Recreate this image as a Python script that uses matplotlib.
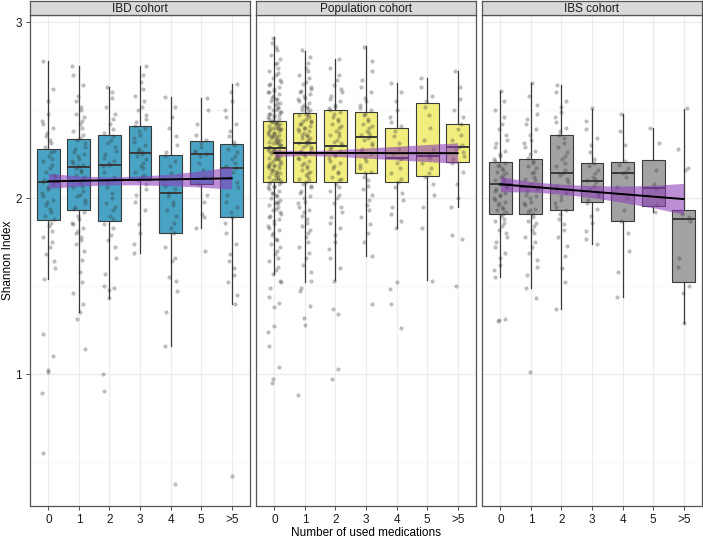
import matplotlib
matplotlib.use("Agg")
import matplotlib.pyplot as plt
import numpy as np

plt.rcParams['font.family'] = ['Liberation Sans', 'DejaVu Sans']

# categories and cohort names
categories = ["0", "1", "2", "3", "4", "5", ">5"]
cohort_names = ["IBD cohort", "Population cohort", "IBS cohort"]

# ---- IBD cohort ----
ibd_q1 = [1.875, 1.93, 1.87, 2.10, 1.80, 2.078, 1.89]
ibd_med = [2.09, 2.174, 2.19, 2.254, 2.03, 2.25, 2.17]
ibd_q3 = [2.28, 2.335, 2.356, 2.41, 2.244, 2.326, 2.307]
ibd_lo = [1.54, 1.35, 1.43, 1.69, 1.16, 1.83, 1.40]
ibd_hi = [2.78, 2.75, 2.63, 2.75, 2.575, 2.566, 2.65]
ibd_fit = [2.095, 2.098, 2.101, 2.104, 2.106, 2.109, 2.112]
ibd_ci_lo = [2.055, 2.068, 2.075, 2.075, 2.07, 2.062, 2.05]
ibd_ci_hi = [2.140, 2.125, 2.12, 2.125, 2.135, 2.155, 2.178]
ibd_points = [
    [2.78, 2.62, 2.55, 2.48, 2.44, 2.42, 2.40, 2.37, 2.35, 2.33, 2.31, 2.29, 2.27, 2.26, 2.24,
     2.22, 2.21, 2.19, 2.17, 2.15, 2.13, 2.12, 2.10, 2.09, 2.08, 2.06, 2.05, 2.03, 2.01, 1.99,
     1.98, 1.96, 1.94, 1.92, 1.90, 1.88, 1.86, 1.84, 1.81, 1.78, 1.75, 1.72, 1.68, 1.64, 1.60,
     1.54, 1.23, 1.10, 1.02, 1.01, 0.89, 0.55],
    [2.75, 2.70, 2.64, 2.58, 2.55, 2.52, 2.50, 2.48, 2.46, 2.44, 2.42, 2.40, 2.38, 2.36, 2.34,
     2.33, 2.31, 2.29, 2.28, 2.26, 2.25, 2.24, 2.22, 2.21, 2.20, 2.19, 2.18, 2.17, 2.16, 2.15,
     2.13, 2.12, 2.10, 2.09, 2.07, 2.06, 2.04, 2.02, 2.01, 1.99, 1.97, 1.95, 1.94, 1.92, 1.90,
     1.88, 1.86, 1.85, 1.83, 1.81, 1.80, 1.78, 1.76, 1.74, 1.70, 1.65, 1.58, 1.52, 1.46, 1.40,
     1.35, 1.31, 1.14],
    [2.63, 2.60, 2.57, 2.52, 2.48, 2.45, 2.42, 2.39, 2.37, 2.35, 2.33, 2.31, 2.29, 2.27, 2.25,
     2.23, 2.21, 2.20, 2.19, 2.18, 2.15, 2.12, 2.09, 2.06, 2.03, 2.00, 1.97, 1.95, 1.93, 1.90,
     1.88, 1.85, 1.83, 1.79, 1.76, 1.72, 1.66, 1.57, 1.50, 1.49, 1.48, 1.43, 1.00, 0.905],
    [2.75, 2.70, 2.66, 2.62, 2.58, 2.55, 2.52, 2.50, 2.47, 2.45, 2.43, 2.41, 2.40, 2.38, 2.36,
     2.34, 2.32, 2.30, 2.28, 2.27, 2.26, 2.25, 2.24, 2.22, 2.20, 2.18, 2.17, 2.15, 2.13, 2.12,
     2.10, 2.08, 2.05, 2.02, 1.98, 1.93, 1.85, 1.80, 1.74, 1.69],
    [2.575, 2.52, 2.46, 2.40, 2.35, 2.30, 2.26, 2.24, 2.21, 2.18, 2.14, 2.10, 2.07, 2.05, 2.03,
     2.01, 1.98, 1.96, 1.93, 1.90, 1.86, 1.83, 1.80, 1.72, 1.66, 1.64, 1.55, 1.53, 1.47, 1.35,
     1.16, 0.377],
    [2.566, 2.50, 2.42, 2.36, 2.33, 2.31, 2.29, 2.27, 2.26, 2.25, 2.24, 2.20, 2.16, 2.12, 2.08,
     2.02, 1.98, 1.91, 1.89, 1.83, 1.70],
    [2.65, 2.60, 2.55, 2.50, 2.46, 2.42, 2.38, 2.35, 2.32, 2.30, 2.28, 2.26, 2.24, 2.22, 2.20,
     2.18, 2.17, 2.15, 2.12, 2.09, 2.06, 2.02, 1.98, 1.95, 1.92, 1.89, 1.86, 1.80, 1.74, 1.68,
     1.64, 1.60, 1.56, 1.52, 1.45, 1.40, 0.42],
]

# ---- Population cohort ----
pop_q1 = [2.09, 2.09, 2.09, 2.14, 2.09, 2.125, 2.203]
pop_med = [2.286, 2.31, 2.294, 2.348, 2.229, 2.24, 2.29]
pop_q3 = [2.44, 2.485, 2.50, 2.49, 2.40, 2.54, 2.42]
pop_lo = [1.566, 1.525, 1.534, 1.67, 1.83, 1.534, 1.95]
pop_hi = [2.913, 2.837, 2.79, 2.864, 2.655, 2.68, 2.723]
pop_fit = [2.256, 2.256, 2.256, 2.256, 2.255, 2.255, 2.255]
pop_ci_lo = [2.236, 2.242, 2.237, 2.227, 2.217, 2.207, 2.197]
pop_ci_hi = [2.274, 2.269, 2.274, 2.284, 2.294, 2.304, 2.314]
pop_points = [
    [2.91, 2.88, 2.86, 2.84, 2.81, 2.79, 2.77, 2.76, 2.74, 2.72, 2.71, 2.70, 2.68, 2.67, 2.66,
     2.65, 2.64, 2.63, 2.62, 2.61, 2.60, 2.60, 2.59, 2.58, 2.57, 2.56, 2.56, 2.55, 2.54, 2.54,
     2.53, 2.52, 2.52, 2.51, 2.50, 2.50, 2.49, 2.49, 2.48, 2.48, 2.47, 2.47, 2.46, 2.46, 2.45,
     2.45, 2.44, 2.44, 2.43, 2.43, 2.43, 2.42, 2.42, 2.42, 2.41, 2.41, 2.40, 2.40, 2.40, 2.39,
     2.39, 2.39, 2.38, 2.38, 2.37, 2.37, 2.37, 2.36, 2.36, 2.35, 2.35, 2.35, 2.34, 2.34, 2.33,
     2.33, 2.33, 2.32, 2.32, 2.31, 2.31, 2.31, 2.30, 2.30, 2.29, 2.29, 2.29, 2.28, 2.28, 2.28,
     2.27, 2.27, 2.26, 2.26, 2.26, 2.25, 2.25, 2.24, 2.24, 2.23, 2.23, 2.23, 2.22, 2.22, 2.21,
     2.21, 2.20, 2.20, 2.19, 2.19, 2.19, 2.18, 2.18, 2.17, 2.17, 2.16, 2.16, 2.15, 2.15, 2.14,
     2.14, 2.13, 2.13, 2.12, 2.12, 2.11, 2.11, 2.10, 2.10, 2.09, 2.09, 2.08, 2.08, 2.07, 2.06,
     2.06, 2.05, 2.04, 2.03, 2.03, 2.02, 2.01, 2.00, 1.99, 1.98, 1.97, 1.97, 1.96, 1.95, 1.94,
     1.93, 1.92, 1.91, 1.90, 1.89, 1.88, 1.87, 1.85, 1.84, 1.83, 1.82, 1.80, 1.79, 1.77, 1.76,
     1.74, 1.72, 1.70, 1.68, 1.66, 1.64, 1.61, 1.59, 1.57, 1.53, 1.52, 1.49, 1.44, 1.405, 1.38,
     1.27, 1.24, 1.16, 1.04, 0.97, 0.95],
    [2.84, 2.80, 2.77, 2.74, 2.72, 2.70, 2.68, 2.66, 2.65, 2.63, 2.62, 2.61, 2.60, 2.59, 2.58,
     2.57, 2.56, 2.55, 2.54, 2.53, 2.52, 2.52, 2.51, 2.50, 2.50, 2.49, 2.48, 2.47, 2.47, 2.46,
     2.45, 2.44, 2.44, 2.43, 2.42, 2.42, 2.41, 2.40, 2.40, 2.39, 2.38, 2.38, 2.37, 2.36, 2.36,
     2.35, 2.34, 2.34, 2.33, 2.32, 2.32, 2.31, 2.31, 2.30, 2.29, 2.29, 2.28, 2.27, 2.26, 2.26,
     2.25, 2.24, 2.23, 2.22, 2.21, 2.20, 2.19, 2.18, 2.17, 2.16, 2.15, 2.14, 2.13, 2.12, 2.11,
     2.10, 2.09, 2.08, 2.07, 2.06, 2.04, 2.03, 2.01, 2.00, 1.98, 1.97, 1.95, 1.93, 1.92, 1.90,
     1.88, 1.86, 1.84, 1.82, 1.80, 1.78, 1.75, 1.72, 1.69, 1.66, 1.62, 1.58, 1.53, 1.49, 1.47,
     1.385, 1.32, 1.28, 0.88],
    [2.79, 2.74, 2.70, 2.67, 2.64, 2.62, 2.60, 2.58, 2.56, 2.55, 2.53, 2.52, 2.51, 2.50, 2.49,
     2.48, 2.46, 2.45, 2.44, 2.42, 2.41, 2.40, 2.38, 2.37, 2.36, 2.35, 2.33, 2.32, 2.31, 2.30,
     2.29, 2.28, 2.27, 2.25, 2.24, 2.23, 2.21, 2.20, 2.18, 2.17, 2.15, 2.14, 2.12, 2.11, 2.10,
     2.08, 2.06, 2.04, 2.02, 2.00, 1.97, 1.95, 1.92, 1.89, 1.86, 1.83, 1.79, 1.75, 1.71, 1.66,
     1.60, 1.53, 1.37, 1.34, 1.03, 0.97],
    [2.86, 2.78, 2.72, 2.67, 2.63, 2.60, 2.57, 2.55, 2.53, 2.51, 2.50, 2.48, 2.47, 2.45, 2.44,
     2.42, 2.41, 2.40, 2.38, 2.37, 2.36, 2.35, 2.34, 2.33, 2.31, 2.30, 2.28, 2.27, 2.25, 2.23,
     2.21, 2.19, 2.17, 2.15, 2.14, 2.12, 2.10, 2.07, 2.05, 2.02, 1.99, 1.96, 1.93, 1.89, 1.85,
     1.80, 1.75, 1.67, 1.40],
    [2.655, 2.60, 2.55, 2.50, 2.46, 2.43, 2.41, 2.38, 2.35, 2.31, 2.28, 2.25, 2.23, 2.22, 2.20,
     2.17, 2.14, 2.11, 2.09, 2.06, 2.03, 1.99, 1.95, 1.91, 1.87, 1.83, 1.52, 1.485, 1.40, 1.26],
    [2.68, 2.63, 2.58, 2.55, 2.52, 2.47, 2.40, 2.33, 2.28, 2.25, 2.24, 2.23, 2.20, 2.17, 2.14,
     2.12, 2.08, 2.02, 1.95, 1.83, 1.53],
    [2.72, 2.63, 2.56, 2.50, 2.46, 2.42, 2.39, 2.36, 2.33, 2.30, 2.29, 2.28, 2.26, 2.24, 2.22,
     2.20, 2.15, 2.08, 2.00, 1.95, 1.79, 1.77, 1.50],
]

# ---- IBS cohort ----
ibs_q1 = [1.91, 1.907, 1.93, 1.98, 1.87, 1.955, 1.52]
ibs_med = [2.078, 2.065, 2.14, 2.097, 2.14, 2.055, 1.88]
ibs_q3 = [2.203, 2.223, 2.356, 2.197, 2.206, 2.216, 1.93]
ibs_lo = [1.553, 1.49, 1.37, 1.737, 1.44, 1.92, 1.29]
ibs_hi = [2.61, 2.655, 2.64, 2.507, 2.477, 2.40, 2.507]
ibs_fit = [2.078, 2.064, 2.050, 2.036, 2.022, 2.008, 1.994]
ibs_ci_lo = [2.035, 2.035, 2.022, 2.002, 1.976, 1.944, 1.908]
ibs_ci_hi = [2.121, 2.093, 2.078, 2.070, 2.068, 2.072, 2.083]
ibs_points = [
    [2.61, 2.55, 2.50, 2.46, 2.42, 2.39, 2.36, 2.33, 2.31, 2.29, 2.27, 2.25, 2.24, 2.22, 2.21,
     2.20, 2.19, 2.18, 2.17, 2.16, 2.15, 2.14, 2.13, 2.12, 2.11, 2.10, 2.09, 2.08, 2.08, 2.07,
     2.06, 2.05, 2.04, 2.03, 2.02, 2.01, 2.00, 1.99, 1.98, 1.97, 1.96, 1.95, 1.94, 1.93, 1.92,
     1.91, 1.90, 1.88, 1.87, 1.86, 1.84, 1.82, 1.80, 1.78, 1.75, 1.72, 1.69, 1.66, 1.62, 1.59,
     1.55, 1.31, 1.305, 1.30],
    [2.655, 2.58, 2.53, 2.48, 2.45, 2.42, 2.39, 2.36, 2.33, 2.31, 2.29, 2.27, 2.25, 2.23, 2.21,
     2.20, 2.18, 2.17, 2.15, 2.14, 2.12, 2.11, 2.10, 2.08, 2.07, 2.06, 2.05, 2.04, 2.02, 2.01,
     2.00, 1.98, 1.97, 1.96, 1.94, 1.93, 1.92, 1.91, 1.89, 1.87, 1.86, 1.84, 1.82, 1.80, 1.78,
     1.75, 1.72, 1.69, 1.65, 1.61, 1.56, 1.49, 1.43, 1.01],
    [2.64, 2.60, 2.55, 2.52, 2.49, 2.46, 2.43, 2.40, 2.38, 2.36, 2.34, 2.31, 2.29, 2.26, 2.24,
     2.22, 2.20, 2.18, 2.16, 2.14, 2.13, 2.11, 2.09, 2.07, 2.05, 2.03, 2.01, 1.99, 1.97, 1.95,
     1.93, 1.91, 1.88, 1.85, 1.82, 1.78, 1.73, 1.67, 1.60, 1.52, 1.37],
    [2.51, 2.44, 2.39, 2.34, 2.30, 2.26, 2.22, 2.20, 2.18, 2.16, 2.14, 2.12, 2.11, 2.10, 2.09,
     2.07, 2.05, 2.03, 2.01, 1.99, 1.97, 1.94, 1.90, 1.86, 1.81, 1.77, 1.74],
    [2.48, 2.38, 2.30, 2.21, 2.19, 2.17, 2.15, 2.14, 2.12, 2.06, 2.00, 1.93, 1.87, 1.80, 1.70,
     1.58, 1.44],
    [2.40, 2.31, 2.16, 2.08, 2.05, 2.02, 1.96, 1.92],
    [2.51, 2.28, 2.17, 2.16, 1.91, 1.89, 1.87, 1.66, 1.61, 1.50, 1.46, 1.29],
]

box_colors = ["#48A3C4", "#F1EE7E", "#A2A2A2"]

cohorts = [
    (ibd_q1, ibd_med, ibd_q3, ibd_lo, ibd_hi, ibd_fit, ibd_ci_lo, ibd_ci_hi, ibd_points),
    (pop_q1, pop_med, pop_q3, pop_lo, pop_hi, pop_fit, pop_ci_lo, pop_ci_hi, pop_points),
    (ibs_q1, ibs_med, ibs_q3, ibs_lo, ibs_hi, ibs_fit, ibs_ci_lo, ibs_ci_hi, ibs_points),
]

# horizontal jitter pattern for the points
jitter = [-0.17, 0.08, 0.19, -0.04, 0.13, -0.21, 0.02, 0.16, -0.11, 0.21, -0.08, 0.05,
          -0.19, 0.11, -0.02, 0.18, -0.14, 0.07, -0.06, 0.15, -0.18, 0.00, 0.10]

W, H = 703, 539
fig = plt.figure(figsize=(W / 100, H / 100), dpi=100)


def px_rect(left, top, width, height):
    return [left / W, 1 - (top + height) / H, width / W, height / H]


panel_left = [30, 256, 482]
xpos = np.arange(len(categories))

for i, (q1, med, q3, lo, hi, fit, ci_lo, ci_hi, points) in enumerate(cohorts):
    ax = fig.add_axes(px_rect(panel_left[i], 15, 220, 491))
    ax.set_xlim(-0.6, 6.6)
    ax.set_ylim(0.25, 3.04)

    # grid
    for y in [0.5, 1.5, 2.5]:
        ax.axhline(y, color="#F4F4F4", lw=0.5, zorder=0)
    for y in [1, 2, 3]:
        ax.axhline(y, color="#EBEBEB", lw=0.9, zorder=0)
    for x in xpos:
        ax.axvline(x, color="#EBEBEB", lw=0.9, zorder=0)

    stats = [dict(q1=q1[k], med=med[k], q3=q3[k], whislo=lo[k], whishi=hi[k], fliers=[])
             for k in range(len(categories))]
    ax.bxp(stats, positions=xpos, widths=0.75, patch_artist=True, showcaps=False,
           showfliers=False,
           boxprops=dict(facecolor=box_colors[i], edgecolor="#3A3A3A", lw=0.8),
           medianprops=dict(color="#3A3A3A", lw=1.4),
           whiskerprops=dict(color="#3A3A3A", lw=0.9), zorder=2)

    # jittered points
    for k, vals in enumerate(points):
        xs = [xpos[k] + jitter[(j * 7 + k * 5 + i * 3) % len(jitter)] for j in range(len(vals))]
        ax.scatter(xs, vals, s=9, color="#333333", alpha=0.32, linewidths=0, zorder=3)

    # regression line with confidence band
    ax.fill_between(xpos, ci_lo, ci_hi, color="#8B3DB8", alpha=0.58, lw=0, zorder=4)
    ax.plot(xpos, fit, color="black", lw=1.4, zorder=5)

    ax.set_xticks(xpos)
    ax.set_xticklabels(categories, fontsize=8.5, color="#1A1A1A")
    ax.tick_params(axis="both", length=3, width=0.6, color="#333333", pad=3)
    if i == 0:
        ax.set_yticks([1, 2, 3])
        ax.set_yticklabels(["1", "2", "3"], fontsize=8.5, color="#1A1A1A")
    else:
        ax.set_yticks([])
    for sp in ax.spines.values():
        sp.set_color("#555555")
        sp.set_linewidth(0.9)

    # facet strip
    st = fig.add_axes(px_rect(panel_left[i], 1, 220, 14))
    st.set_facecolor("#D9D9D9")
    st.set_xticks([])
    st.set_yticks([])
    for sp in st.spines.values():
        sp.set_color("#555555")
        sp.set_linewidth(0.9)
    st.text(0.5, 0.45, cohort_names[i], ha="center", va="center", fontsize=8.5,
            color="#1A1A1A", transform=st.transAxes)

fig.text(8 / W, 1 - 260 / H, "Shannon Index", ha="center", va="center", rotation=90,
         fontsize=8.5)
fig.text(366 / W, 1 - 533 / H, "Number of used medications", ha="center", va="center",
         fontsize=8.5)

fig.savefig("out.png", dpi=100)
